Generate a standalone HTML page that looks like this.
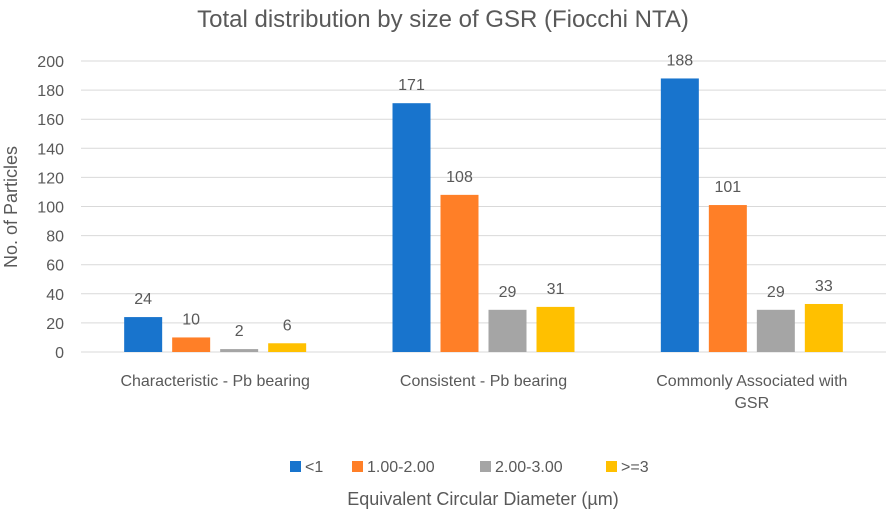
<!DOCTYPE html>
<html><head><meta charset="utf-8"><style>
body{margin:0;background:#fff;font-family:"Liberation Sans",sans-serif}
text{font-family:"Liberation Sans",sans-serif;fill:#595959}
</style></head><body>
<svg width="886" height="516">
<text x="443" y="27" text-anchor="middle" font-size="24">Total distribution by size of GSR (Fiocchi NTA)</text>
<g id="grid"></g><g id="bars"></g>
<text transform="translate(17,207) rotate(-90)" text-anchor="middle" font-size="18">No. of Particles</text>
<text x="483" y="505" text-anchor="middle" font-size="18">Equivalent Circular Diameter (µm)</text>
<g id="legend"></g>
</svg>
<script>
const categories=[["Characteristic - Pb bearing"],["Consistent - Pb bearing"],["Commonly Associated with","GSR"]];
const seriesNames=["<1","1.00-2.00","2.00-3.00",">=3"];
const s1=[24,171,188];
const s2=[10,108,101];
const s3=[2,29,29];
const s4=[6,31,33];
const yTicks=[0,20,40,60,80,100,120,140,160,180,200];
const colors=["#1874CD","#FF7F27","#A5A5A5","#FFC000"];
const series=[s1,s2,s3,s4];
const NS="http://www.w3.org/2000/svg";
const x0=81,x1=886,y0=352,y1=61;
const y=v=>y0-(v/200)*(y0-y1);
const bw=(x1-x0)/categories.length;
const grid=document.getElementById('grid'),bars=document.getElementById('bars'),leg=document.getElementById('legend');
function mk(tag,a,p){const e=document.createElementNS(NS,tag);for(const k in a)e.setAttribute(k,a[k]);p.appendChild(e);return e;}
yTicks.forEach(t=>{
 const l=mk('line',{x1:x0,x2:x1,y1:y(t),y2:y(t),stroke:"#d9d9d9","stroke-width":1},grid);
 
 
 const tx=mk('text',{x:64,y:y(t)+6,"text-anchor":"end","font-size":16},grid);
 tx.textContent=t;
 
 
});
categories.forEach((c,i)=>{
 const cx=x0+bw*(i+0.5);
 series.forEach((s,j)=>{
  const bx=cx-91+j*48;
  const r=mk('rect',{x:bx,y:y(s[i]),width:38,height:y0-y(s[i]),fill:colors[j]},bars);
  
  
  const t=mk('text',{x:bx+19,y:y(s[i])-13,"text-anchor":"middle","font-size":16,fill:"#404040"},bars);
  t.textContent=s[i];
  
  
 });
 c.forEach((line,k)=>{
  const t=mk('text',{x:cx,y:386+k*22,"text-anchor":"middle","font-size":16},bars);
  t.textContent=line;
  
  
 });
});
const lx=[290,352,480,606];
seriesNames.forEach((n,j)=>{
 const r=mk('rect',{x:lx[j],y:461,width:11,height:11,fill:colors[j]},leg);
 
 
 const t=mk('text',{x:lx[j]+15,y:472,"font-size":16},leg);
 t.textContent=n;
 
 
});
</script>
</body></html>
